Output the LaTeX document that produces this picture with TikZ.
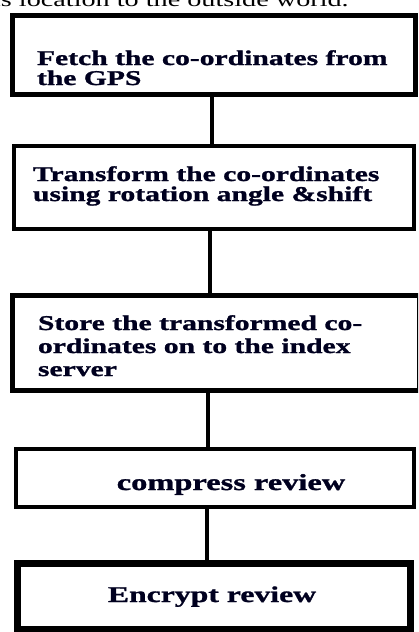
\documentclass[tikz,border=0pt]{standalone}
\usepackage{fontspec}
\setmainfont{Liberation Serif}[FakeStretch=1.41,BoldFeatures={FakeBold=1.2}]
\begin{document}
\begin{tikzpicture}[x=1pt,y=-1pt,
  box/.style={draw=black,rectangle,inner sep=0pt,outer sep=0pt,fill=white},
  conn/.style={draw=black,line width=4.5pt},
  lbl/.style={inner sep=0pt,outer sep=0pt,align=left,font=\fontsize{21}{20}\selectfont\bfseries,text=black!88!blue}]
\useasboundingbox (0,0) rectangle (418,632);
\clip (0,0) rectangle (418,632);
\fill[white] (0,0) rectangle (418,632);
% cut-off text line at the top
\node[inner sep=0pt,anchor=base west,font=\fontsize{20}{20}\selectfont] (top) at (-29,6) {this location to the outside world.};
% boxes
\node[box,line width=5pt,minimum width=403pt,minimum height=79pt] (b1) at (214,55) {};
\node[box,line width=4pt,minimum width=400pt,minimum height=83pt] (b2) at (214,187.5) {};
\node[box,line width=5pt,minimum width=407.5pt,minimum height=95pt] (b3) at (216,343) {};
\node[box,line width=4pt,minimum width=398pt,minimum height=58pt] (b4) at (215,478) {};
\node[box,line width=7pt,minimum width=393pt,minimum height=66pt] (b5) at (214,596.5) {};
% connectors
\draw[conn] ([xshift=-2pt]b1.south) -- ([xshift=-2pt]b1.south |- b2.north);
\draw[conn] ([xshift=-4pt]b2.south) -- ([xshift=-4pt]b2.south |- b3.north);
\draw[conn] ([xshift=-8pt]b3.south) -- ([xshift=-8pt]b3.south |- b4.north);
\draw[conn] ([xshift=-8pt]b4.south) -- ([xshift=-8pt]b4.south |- b5.north);
% texts
\node[lbl,anchor=base west,font=\fontsize{21}{20}\selectfont\bfseries] (t1) at (37,85) {Fetch the co-ordinates from\\the GPS};
\node[lbl,anchor=base west,font=\fontsize{21}{20}\selectfont\bfseries] (t2) at (33,201) {Transform the co-ordinates\\using rotation angle \&shift};
\node[lbl,anchor=base west,font=\fontsize{21}{23}\selectfont\bfseries] (t3) at (38,376) {Store the transformed co-\\ordinates on to the index\\server};
\node[lbl,anchor=base,font=\fontsize{23}{23}\selectfont\bfseries] (t4) at (231,490) {compress review};
\node[lbl,anchor=base,font=\fontsize{22.5}{23}\selectfont\bfseries] (t5) at (212,602) {Encrypt review};
\end{tikzpicture}
\end{document}
